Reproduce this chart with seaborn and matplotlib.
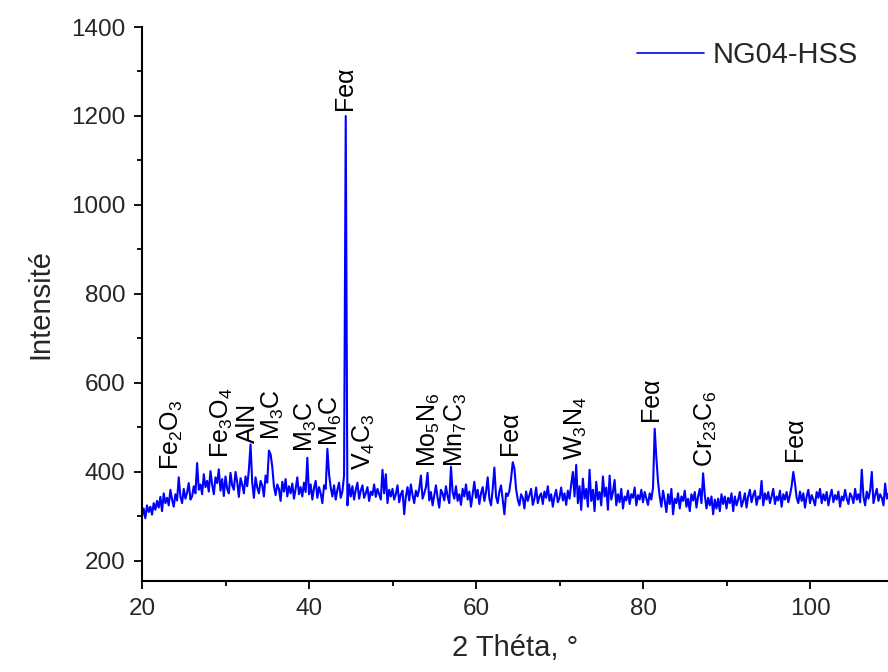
import numpy as np
import pandas as pd
import matplotlib
matplotlib.use("Agg")
import matplotlib.pyplot as plt
from matplotlib.ticker import MultipleLocator
import seaborn as sns

# ---- data ----
two_theta_start = 20.0
two_theta_step = 0.2
intensity = [
    300, 318, 296, 325, 310,  322, 304, 330, 315, 335,   # 20-21
    320, 344, 312, 352, 330,  342, 325, 360, 338, 322,   # 22-23
    350, 336, 388, 345, 330,  362, 340, 354, 375, 338,   # 24-25
    345, 368, 352, 420, 360,  372, 350, 395, 366, 380,   # 26-27
    356, 402, 372, 350, 388,  375, 406, 358, 384, 346,   # 28-29
    390, 362, 352, 398, 370,  360, 400, 378, 344, 386,   # 30-31
    372, 352, 390, 368, 405,  462, 376, 342, 388, 365,   # 32-33
    352, 380, 370, 345, 392,  376, 448, 440, 412, 368,   # 34-35
    348, 372, 362, 335, 378,  356, 384, 345, 368, 352,   # 36-37
    374, 340, 362, 388, 350,  366, 345, 376, 355, 432,   # 38-39
    350, 372, 338, 364, 380,  342, 366, 352, 330, 370,   # 40-41
    362, 452, 395, 365, 345,  370, 338, 360, 376, 342,   # 42-43
    356, 392, 1200, 325, 372, 345, 368, 338, 360, 376,   # 44-45
    340, 358, 370, 342, 352,  366, 335, 356, 348, 372,   # 46-47
    344, 362, 350, 338, 405,  352, 395, 330, 360, 345,   # 48-49
    362, 338, 350, 370, 332,  350, 358, 305, 345, 366,   # 50-51
    336, 372, 348, 330, 358,  345, 362, 392, 340, 352,   # 52-53
    366, 398, 336, 355, 325,  348, 370, 342, 320, 360,   # 54-55
    352, 336, 368, 345, 330,  412, 355, 340, 368, 335,   # 56-57
    350, 326, 362, 345, 372,  338, 356, 322, 350, 378,   # 58-59
    342, 360, 328, 352, 366,  335, 355, 388, 340, 325,   # 60-61
    362, 410, 345, 330, 356,  370, 338, 305, 352, 346,   # 62-63
    358, 385, 422, 408, 362,  338, 325, 350, 342, 318,   # 64-65
    356, 335, 348, 362, 326,  340, 365, 330, 345, 352,   # 66-67
    328, 356, 342, 368, 335,  350, 322, 345, 360, 332,   # 68-69
    342, 365, 336, 352, 326,  358, 340, 372, 400, 345,   # 70-71
    416, 330, 368, 315, 385,  340, 362, 322, 405, 335,   # 72-73
    360, 312, 378, 338, 355,  325, 390, 345, 365, 315,   # 74-75
    392, 338, 355, 382, 325,  350, 332, 362, 318, 345,   # 76-77
    336, 358, 328, 350, 342,  365, 325, 348, 338, 360,   # 78-79
    332, 355, 340, 326, 352,  338, 365, 497, 432, 378,   # 80-81
    345, 322, 358, 336, 310,  350, 328, 362, 305, 340,   # 82-83
    330, 352, 318, 345, 335,  358, 322, 340, 312, 350,   # 84-85
    336, 355, 320, 345, 362,  330, 397, 348, 318, 342,   # 86-87
    325, 345, 305, 338, 318,  340, 312, 350, 328, 345,   # 88-89
    318, 342, 330, 352, 312,  345, 325, 338, 355, 322,   # 90-91
    335, 352, 320, 345, 360,  332, 348, 358, 326, 345,   # 92-93
    340, 380, 325, 352, 338,  355, 330, 345, 362, 328,   # 94-95
    345, 336, 358, 322, 350,  338, 355, 332, 348, 368,   # 96-97
    400, 375, 342, 330, 356,  335, 352, 320, 345, 360,   # 98-99
    330, 348, 338, 325, 355,  342, 362, 330, 350, 336,   # 100-101
    355, 325, 345, 360, 332,  348, 338, 356, 322, 345,   # 102-103
    336, 360, 340, 328, 352,  345, 330, 362, 338, 350,   # 104-105
    332, 405, 345, 325, 356,  340, 358, 400, 330, 348,   # 106-107
    362, 335, 350, 342, 325,  374, 340, 352,             # 108-109
]
two_theta = two_theta_start + two_theta_step * np.arange(len(intensity))
series_name = "NG04-HSS"

peak_labels = [r"Fe$_2$O$_3$", r"Fe$_3$O$_4$", "AlN", r"M$_3$C", r"M$_3$C",
               r"M$_6$C", "Feα", r"V$_4$C$_3$", r"Mo$_5$N$_6$", r"Mn$_7$C$_3$",
               "Feα", r"W$_3$N$_4$", "Feα", r"Cr$_{23}$C$_6$", "Feα"]
peak_x = [23.6, 29.6, 32.7, 35.7, 39.6, 42.6, 44.3, 46.6, 54.4, 57.6,
          64.1, 72.0, 81.0, 87.5, 98.2]
peak_y = [405, 431, 465, 472, 445, 458, 1213, 405, 411, 411,
          438, 427, 515, 411, 425]

x_ticks = [20, 40, 60, 80, 100]
y_ticks = [200, 400, 600, 800, 1000, 1200, 1400]

# ---- style ----
sns.set_style("ticks")
plt.rcParams["font.family"] = ["Liberation Sans", "DejaVu Sans"]
plt.rcParams["mathtext.fontset"] = "custom"
plt.rcParams["mathtext.rm"] = "Liberation Sans"
plt.rcParams["mathtext.it"] = "Liberation Sans:italic"
plt.rcParams["mathtext.bf"] = "Liberation Sans:bold"

df = pd.DataFrame({"2theta": two_theta, "I": intensity})

fig = plt.figure(figsize=(8.88, 6.72), dpi=100)
ax = fig.add_axes([142 / 888, (672 - 581) / 672, 746 / 888, (581 - 27) / 672])

sns.lineplot(data=df, x="2theta", y="I", color="#0000ff", linewidth=1.5,
             estimator=None, sort=False, label=series_name, ax=ax)

ax.set_xlim(20, 20 + 746 / 8.35)
ax.set_ylim(155, 1400)
ax.set_xticks(x_ticks)
ax.set_yticks(y_ticks)
ax.xaxis.set_minor_locator(MultipleLocator(10))
ax.yaxis.set_minor_locator(MultipleLocator(100))
ax.tick_params(which="major", direction="out", length=6, width=1.3,
               labelsize=17.5, color="black", pad=6)
ax.tick_params(which="minor", direction="out", length=3.5, width=1.3,
               color="black")
for side in ["top", "right"]:
    ax.spines[side].set_visible(False)
for side in ["left", "bottom"]:
    ax.spines[side].set_linewidth(1.5)
    ax.spines[side].set_color("black")

ax.set_xlabel("2 Théta, °", fontsize=21, labelpad=10)
ax.set_ylabel("Intensité", fontsize=21, labelpad=12)

for lab, px, py in zip(peak_labels, peak_x, peak_y):
    ax.text(px, py, lab, rotation=90, ha="center", va="bottom", fontsize=18,
            color="black")

leg = ax.legend(loc="center left", bbox_to_anchor=(637 / 888, 1 - 55 / 672),
                bbox_transform=fig.transFigure, frameon=False, fontsize=21,
                handlelength=2.3, handletextpad=0.3, borderpad=0,
                borderaxespad=0)
for h in leg.get_lines():
    h.set_linewidth(1.2)

fig.savefig("out.png", dpi=100)
